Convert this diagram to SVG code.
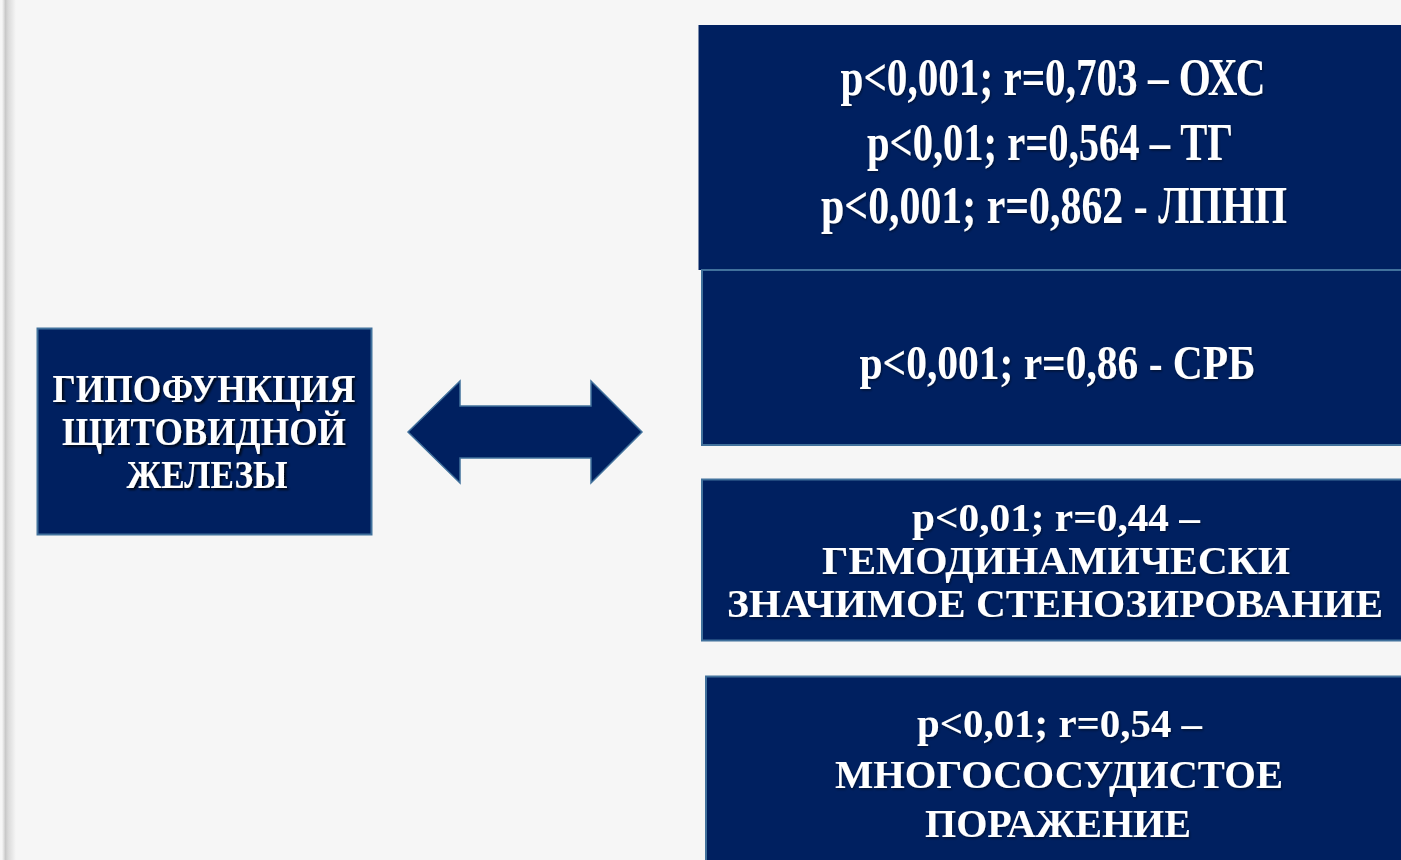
<svg xmlns="http://www.w3.org/2000/svg" width="1401" height="860" viewBox="0 0 1401 860">
  <defs>
    <linearGradient id="edge" x1="0" y1="0" x2="1" y2="0">
      <stop offset="0" stop-color="#f6f6f6"/>
      <stop offset="0.25" stop-color="#c9c9c9"/>
      <stop offset="0.45" stop-color="#dadada"/>
      <stop offset="1" stop-color="#f6f6f6"/>
    </linearGradient>
    <filter id="shadow" x="-10%" y="-30%" width="120%" height="160%">
      <feDropShadow dx="2" dy="2" stdDeviation="1.2" flood-color="#000000" flood-opacity="0.75"/>
    </filter>
    <filter id="soft" x="-10%" y="-30%" width="120%" height="160%">
      <feDropShadow dx="1" dy="1.5" stdDeviation="1" flood-color="#000000" flood-opacity="0.45"/>
    </filter>
  </defs>
  <style>
    .box { fill: #002060; }
    .boxs { fill: #002060; stroke: #41719c; stroke-width: 2; }
    .t { font-family: "Liberation Serif", "Times New Roman", serif; font-weight: bold; fill: #ffffff; text-anchor: middle; }
  </style>
  <rect x="0" y="0" width="1401" height="860" fill="#f6f6f6"/>
  <rect x="2" y="0" width="14" height="860" fill="url(#edge)"/>

  <g id="node-hypofunction">
    <rect class="boxs" x="37.5" y="328.5" width="334" height="206"/>
    <g filter="url(#shadow)">
      <text class="t" x="204" y="402" font-size="39" textLength="303" lengthAdjust="spacingAndGlyphs">ГИПОФУНКЦИЯ</text>
      <text class="t" x="204" y="445" font-size="39" textLength="284" lengthAdjust="spacingAndGlyphs">ЩИТОВИДНОЙ</text>
      <text class="t" x="207" y="488" font-size="39" textLength="161" lengthAdjust="spacingAndGlyphs">ЖЕЛЕЗЫ</text>
    </g>
  </g>

  <g id="connectors">
    <polygon points="408,432 460,381 460,406 591,406 591,381 642,432 591,483 591,458 460,458 460,483" fill="#002060" stroke="#41719c" stroke-width="1.5" stroke-linejoin="miter"/>
  </g>

  <g id="node-lipids">
    <rect class="box" x="698.5" y="25" width="710" height="245"/>
    <g filter="url(#soft)">
      <text class="t" x="1053" y="95" font-size="52" textLength="425" lengthAdjust="spacingAndGlyphs">p&lt;0,001; r=0,703 – ОХС</text>
      <text class="t" x="1050" y="160" font-size="52" textLength="366" lengthAdjust="spacingAndGlyphs">p&lt;0,01; r=0,564 – ТГ</text>
      <text class="t" x="1054" y="223" font-size="52" textLength="466" lengthAdjust="spacingAndGlyphs">p&lt;0,001; r=0,862 - ЛПНП</text>
    </g>
  </g>

  <g id="node-crp">
    <rect class="boxs" x="702" y="270" width="710" height="175"/>
    <g filter="url(#soft)">
      <text class="t" x="1057.5" y="379" font-size="48" textLength="396" lengthAdjust="spacingAndGlyphs">p&lt;0,001; r=0,86 - СРБ</text>
    </g>
  </g>

  <g id="node-stenosis">
    <rect class="boxs" x="702" y="479.5" width="710" height="161"/>
    <g filter="url(#soft)">
      <text class="t" x="1056" y="531" font-size="39" textLength="288" lengthAdjust="spacingAndGlyphs">p&lt;0,01; r=0,44 –</text>
      <text class="t" x="1056" y="574" font-size="39" textLength="468" lengthAdjust="spacingAndGlyphs">ГЕМОДИНАМИЧЕСКИ</text>
      <text class="t" x="1055" y="617" font-size="39" textLength="656" lengthAdjust="spacingAndGlyphs">ЗНАЧИМОЕ СТЕНОЗИРОВАНИЕ</text>
    </g>
  </g>

  <g id="node-multivessel">
    <rect class="boxs" x="706" y="676.5" width="710" height="200"/>
    <g filter="url(#soft)">
      <text class="t" x="1059.5" y="737" font-size="40" textLength="285" lengthAdjust="spacingAndGlyphs">p&lt;0,01; r=0,54 –</text>
      <text class="t" x="1059" y="788" font-size="40" textLength="448" lengthAdjust="spacingAndGlyphs">МНОГОСОСУДИСТОЕ</text>
      <text class="t" x="1058" y="837" font-size="40" textLength="266" lengthAdjust="spacingAndGlyphs">ПОРАЖЕНИЕ</text>
    </g>
  </g>
</svg>
